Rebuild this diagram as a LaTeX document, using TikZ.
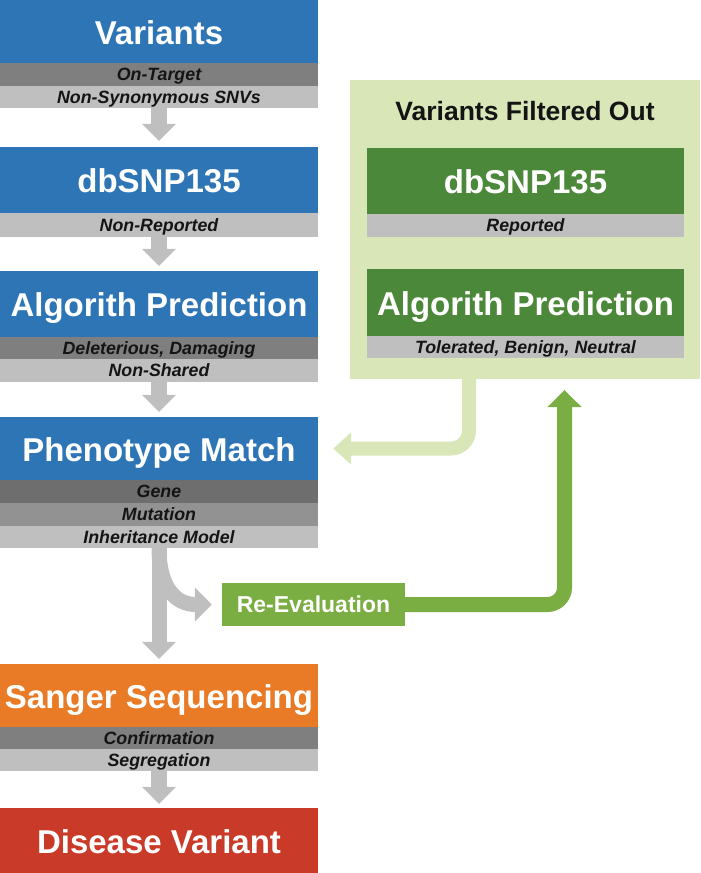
\documentclass[tikz,border=0pt]{standalone}
\usepackage{fontspec}
\setmainfont{Liberation Sans}
\usetikzlibrary{arrows.meta}
\definecolor{stageblue}{RGB}{46,117,182}
\definecolor{stageorange}{RGB}{233,122,38}
\definecolor{stagered}{RGB}{201,58,40}
\definecolor{filtergreen}{RGB}{76,136,58}
\definecolor{panelgreen}{RGB}{216,230,184}
\definecolor{evalgreen}{RGB}{122,174,66}
\definecolor{banddark}{RGB}{127,127,127}
\definecolor{banddarker}{RGB}{110,110,110}
\definecolor{bandmid}{RGB}{146,146,146}
\definecolor{bandlight}{RGB}{191,191,191}
\definecolor{arrowgray}{RGB}{191,191,191}
\definecolor{bandtext}{RGB}{20,20,20}
\begin{document}
\begin{tikzpicture}[x=1pt,y=-1pt,
	stage/.style={minimum width=318pt,minimum height=64pt,inner sep=0pt,text=white,text height=25pt,text depth=0pt,font=\fontsize{33}{33}\selectfont\bfseries},
	band/.style={minimum width=318pt,minimum height=22.5pt,inner sep=0pt,text=bandtext,text height=12.6pt,text depth=0pt,font=\fontsize{17.8}{17.8}\selectfont\bfseries\itshape},
	grayarrow/.style={draw=arrowgray,line width=16pt,-{Triangle[width=33pt,length=17pt]}},
	evalarrow/.style={draw=evalgreen,line width=15pt,rounded corners=17pt,-{Triangle[width=33pt,length=17pt]}},
	backarrow/.style={draw=panelgreen,line width=14pt,rounded corners=18pt,-{Triangle[width=31pt,length=18pt]}}]
	\useasboundingbox (0,0) rectangle (701,873);

	\node[stage,fill=stageblue,minimum height=63pt] (variants) at (159,31.5) {Variants};
	\node[band,fill=banddark,minimum height=23pt] (ontarget) at (159,74.5) {On-Target};
	\node[band,fill=bandlight,minimum height=22pt] (nonsyn) at (159,97) {Non-Synonymous SNVs};

	\node[stage,fill=stageblue,minimum height=66pt] (dbsnp) at (159,180) {dbSNP135};
	\node[band,fill=bandlight,minimum height=24pt] (nonrep) at (159,225) {Non-Reported};

	\node[stage,fill=stageblue,minimum height=66pt] (algo) at (159,304) {Algorith Prediction};
	\node[band,fill=banddark,minimum height=22pt] (delet) at (159,348) {Deleterious, Damaging};
	\node[band,fill=bandlight,minimum height=23pt] (nonshared) at (159,370.5) {Non-Shared};

	\node[stage,fill=stageblue,minimum height=63pt] (pheno) at (159,448.5) {Phenotype Match};
	\node[band,fill=banddarker,minimum height=23pt] (gene) at (159,491.5) {Gene};
	\node[band,fill=bandmid,minimum height=23pt] (mutation) at (159,514.5) {Mutation};
	\node[band,fill=bandlight,minimum height=22pt] (inherit) at (159,537) {Inheritance Model};

	\node[stage,fill=stageorange,minimum height=63pt] (sanger) at (159,695.5) {Sanger Sequencing};
	\node[band,fill=banddark,minimum height=22pt] (confirm) at (159,738) {Confirmation};
	\node[band,fill=bandlight,minimum height=22pt] (segreg) at (159,760) {Segregation};

	\node[stage,fill=stagered,minimum height=65pt] (disease) at (159,840.5) {Disease Variant};

	\node[fill=panelgreen,minimum width=350pt,minimum height=299pt,inner sep=0pt] (panel) at (525,229.5) {};
	\node[text=bandtext,inner sep=0pt,text height=19pt,text depth=0pt,font=\fontsize{26.5}{26.5}\selectfont\bfseries] (filtered) at (525,110.5) {Variants Filtered Out};
	\node[stage,fill=filtergreen,minimum width=317pt,minimum height=66pt] (fdbsnp) at (525.5,181) {dbSNP135};
	\node[band,fill=bandlight,minimum width=317pt,minimum height=23pt] (reported) at (525.5,225.5) {Reported};
	\node[stage,fill=filtergreen,minimum width=317pt,minimum height=67pt] (falgo) at (525.5,302.5) {Algorith Prediction};
	\node[band,fill=bandlight,minimum width=317pt,minimum height=22pt] (tolerated) at (525.5,347) {Tolerated, Benign, Neutral};

	\node[fill=evalgreen,text=white,minimum width=183pt,minimum height=43pt,inner sep=0pt,text height=16.5pt,text depth=0pt,font=\fontsize{23}{23}\selectfont\bfseries] (reeval) at (313.5,604.5) {Re-Evaluation};

	\coordinate (backstart) at (469,379);
	\coordinate (evaltip) at (564.5,379);

	\draw[grayarrow,shorten >=6pt] (nonsyn.south) -- (dbsnp.north);
	\draw[grayarrow,shorten >=5pt] (nonrep.south) -- (algo.north);
	\draw[grayarrow,shorten >=5pt] (nonshared.south) -- (pheno.north);
	\draw[grayarrow,line width=15pt,shorten >=10pt] (inherit.south) .. controls (159,588) and (176,604.5) .. (reeval.west);
	\draw[grayarrow,line width=15pt,shorten >=5pt] (inherit.south) -- (sanger.north);
	\draw[grayarrow,shorten >=4pt] (segreg.south) -- (disease.north);

	\draw[evalarrow,shorten >=11pt] (reeval.east) -| (evaltip);
	\draw[backarrow,shorten >=15pt] (backstart) |- (pheno.east);
\end{tikzpicture}
\end{document}
